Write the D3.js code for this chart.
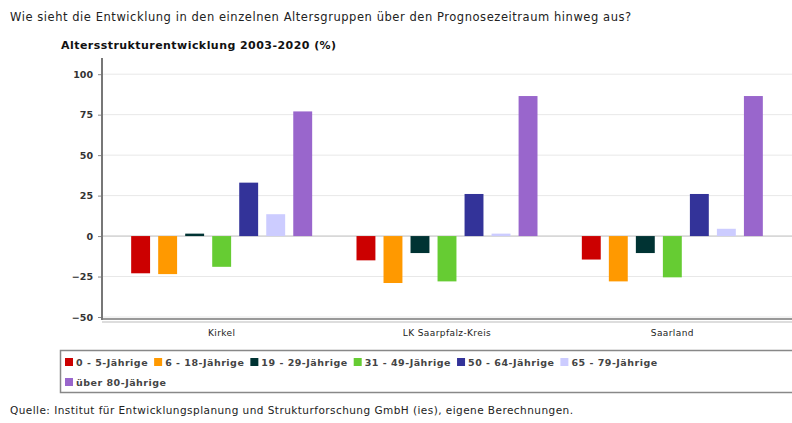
<!DOCTYPE html>
<html>
<head>
<meta charset="utf-8">
<script src="https://cdn.jsdelivr.net/npm/d3@7"></script>
<style>
  body { margin: 0; background: #fff; }
  text { font-family: "DejaVu Sans", Verdana, sans-serif; }
</style>
</head>
<body>
<svg id="chart" width="792" height="423"></svg>
<script>
// ---- data ----
const regions = ["Kirkel", "LK Saarpfalz-Kreis", "Saarland"];
const groups = ["0 - 5-Jährige", "6 - 18-Jährige", "19 - 29-Jährige", "31 - 49-Jährige",
                "50 - 64-Jährige", "65 - 79-Jährige", "über 80-Jährige"];
const colors = ["#cc0000", "#ff9900", "#003333", "#66cc33", "#333399", "#ccccff", "#9966cc"];
const kirkel   = [-23, -23.5, 1.5, -19, 33, 13.5, 77];
const saarpfalz = [-15, -29, -10.5, -28, 26, 1.5, 86.5];
const saarland = [-14.5, -28, -10.5, -25.5, 26, 4.5, 86.5];
const yTicks = [-50, -25, 0, 25, 50, 75, 100];

const values = [kirkel, saarpfalz, saarland];

const svg = d3.select("#chart");

// titles
svg.append("text").attr("x", 10).attr("y", 21)
  .style("font-size", "11.5px").style("letter-spacing", "0.55px").attr("fill", "#222")
  .text("Wie sieht die Entwicklung in den einzelnen Altersgruppen über den Prognosezeitraum hinweg aus?");
svg.append("text").attr("x", 61).attr("y", 49)
  .style("font-size", "11px").style("letter-spacing", "0.45px").style("font-weight", "bold").attr("fill", "#111")
  .text("Altersstrukturentwicklung 2003-2020 (%)");

// scales
const pLeft = 102, pRight = 792, pTop = 58;
const y = d3.scaleLinear().domain([-50, 110]).range([317, pTop]);
const x0 = d3.scaleBand().domain(regions).range([109, 785]);
const x1 = d3.scaleBand().domain(groups).range([0, 181]).paddingInner(0.3);
const off = (x0.bandwidth() - 181) / 2;

// gridlines
svg.append("g").selectAll("line").data(yTicks).join("line")
  .attr("x1", pLeft).attr("x2", pRight)
  .attr("y1", d => y(d)).attr("y2", d => y(d))
  .attr("stroke", d => d === 0 ? "#bbb" : "#e8e8e8");

// bars
const gReg = svg.append("g").selectAll("g").data(regions).join("g")
  .attr("transform", d => `translate(${x0(d) + off},0)`);
gReg.selectAll("rect")
  .data((d, i) => values[i].map((v, j) => ({ g: groups[j], v, c: colors[j] })))
  .join("rect")
  .attr("x", d => x1(d.g))
  .attr("width", x1.bandwidth())
  .attr("y", d => y(Math.max(0, d.v)))
  .attr("height", d => Math.abs(y(d.v) - y(0)))
  .attr("fill", d => d.c);

// y axis
const yAxis = svg.append("g").attr("transform", `translate(${pLeft},0)`)
  .call(d3.axisLeft(y).tickValues(yTicks).tickSize(4).tickPadding(5));
yAxis.select(".domain").remove();
yAxis.selectAll("line").attr("stroke", "#888");
yAxis.selectAll("text").style("font-size", "9.5px").style("font-weight", "bold").attr("fill", "#333");
svg.append("line").attr("x1", pLeft).attr("x2", pLeft).attr("y1", pTop).attr("y2", 320)
  .attr("stroke", "#777").attr("stroke-width", 2);

// x axis
svg.append("line").attr("x1", pLeft).attr("x2", pRight).attr("y1", 319).attr("y2", 319)
  .attr("stroke", "#777").attr("stroke-width", 1.5);
svg.append("line").attr("x1", pLeft).attr("x2", pRight).attr("y1", 322).attr("y2", 322)
  .attr("stroke", "#bbb");
svg.append("g").selectAll("text").data(regions).join("text")
  .attr("x", d => x0(d) + x0.bandwidth() / 2).attr("y", 336)
  .attr("text-anchor", "middle").style("font-size", "9px").style("letter-spacing", "0.4px").attr("fill", "#222")
  .text(d => d);

// legend
svg.append("rect").attr("x", 60.5).attr("y", 350.5).attr("width", 740).attr("height", 42)
  .attr("fill", "none").attr("stroke", "#888").attr("stroke-width", 1.5);
const leg = svg.append("g");
let lx = 65, ly = 362;
groups.forEach((g, i) => {
  const it = leg.append("g");
  it.append("rect").attr("x", 0).attr("y", -4).attr("width", 8).attr("height", 8).attr("fill", colors[i]);
  const t = it.append("text").attr("x", 11).attr("y", 3.5)
    .style("font-size", "9.5px").style("letter-spacing", "0.5px").style("font-weight", "bold")
    .attr("fill", "#444").text(g);
  const w = 11 + t.node().getComputedTextLength() + 6;
  if (lx + w > 740) { lx = 65; ly += 20; }
  it.attr("transform", `translate(${lx},${ly})`);
  lx += w;
});

// source
svg.append("text").attr("x", 10).attr("y", 414)
  .style("font-size", "10.5px").style("letter-spacing", "0.45px").attr("fill", "#222")
  .text("Quelle: Institut für Entwicklungsplanung und Strukturforschung GmbH (ies), eigene Berechnungen.");
</script>
</body>
</html>
